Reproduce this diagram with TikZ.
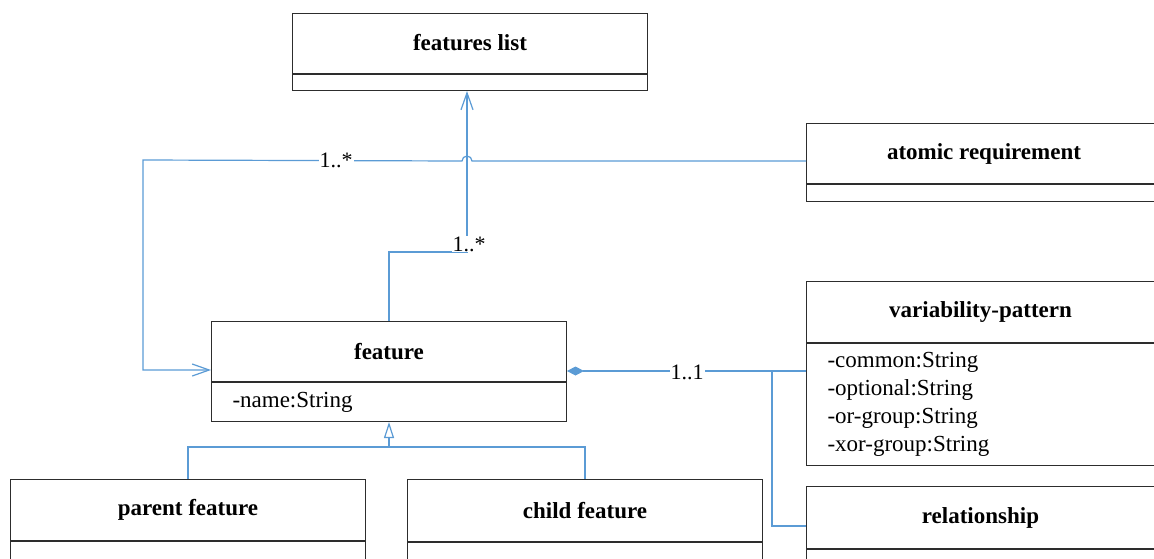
\documentclass[tikz,border=0pt]{standalone}
\usepackage{fontspec}
\setmainfont{Liberation Serif}
\usetikzlibrary{arrows.meta,calc}
\definecolor{link}{RGB}{91,155,213}
\definecolor{boxline}{RGB}{45,45,45}
\begin{document}
\begin{tikzpicture}[x=1pt,y=-1pt,
  head/.style={draw=boxline, line width=1pt, minimum width=#1, minimum height=60pt,
    inner sep=0pt, anchor=north west, font=\fontsize{23}{26}\selectfont\bfseries},
  head/.default=355pt,
  comp/.style={draw=boxline, line width=1pt, minimum width=#1, inner sep=0pt,
    anchor=north, font=\fontsize{23}{28}\selectfont},
  comp/.default=355pt,
  conn/.style={draw=link, line width=1.2pt},
  mult/.style={fill=white, inner sep=1pt, font=\fontsize{22}{24}\selectfont},
  openarrow/.style={-{Straight Barb[length=17pt,width=12pt,line width=1.2pt]}}
]
\clip (0,0) rectangle (1154,558);

% classes
\node[head] (fl) at (292,13) {\raisebox{1.5pt}{features list}};
\node[comp, minimum height=16pt] (flc) at (fl.south) {};

\node[head=360pt] (ar) at (806,123) {\hspace*{-5pt}\raisebox{1.5pt}{atomic requirement}};
\node[comp=360pt, minimum height=17pt] (arc) at (ar.south) {};

\node[head] (ft) at (211,321) {feature};
\node[comp, minimum height=39pt, align=left, text width=313pt, inner xsep=21pt]
  (ftc) at (ft.south) {-name:String};

\node[head=360pt, minimum height=61pt] (vp) at (806,281) {\hspace*{-12pt}variability-pattern};
\node[comp=360pt, minimum height=122pt, align=left, text width=318pt, inner xsep=21pt]
  (vpc) at (vp.south)
  {-common:String\\-optional:String\\-or-group:String\\-xor-group:String};

\node[head=360pt, minimum height=62pt] (rel) at (806,486) {\hspace*{-12pt}relationship};
\node[comp=360pt, minimum height=30pt] (relc) at (rel.south) {};

\node[head, minimum height=61pt] (pf) at (10,479) {parent feature};
\node[comp, minimum height=30pt] (pfc) at (pf.south) {};

\node[head, minimum height=62pt] (cf) at (407,479) {child feature};
\node[comp, minimum height=30pt] (cfc) at (cf.south) {};

% attachment points
\coordinate (arIn) at ($(ar.south west)+(0,-23)$);
\coordinate (hopR) at ($(arIn -| 467,0)+(5,0)$);
\coordinate (ftIn) at ($(ft.south west)+(0,-12)$);
\coordinate (ftOut) at ($(ft.south east)+(0,-11)$);
\coordinate (vpIn) at (vp.south west |- ftOut);
\coordinate (relIn) at ($(rel.south west)+(0,-23)$);
\coordinate (flIn) at (467,89);
\coordinate (gj) at (ft.south |- 0,447);

% association: atomic requirement -> feature, hopping over the vertical line
\draw[conn, openarrow] (arIn) -- (hopR)
  arc[start angle=0, end angle=-180, radius=5] -- (143,160) |- (ftIn);
\node[mult] at (336,160) {1..*};

% association: feature -> features list
\draw[conn, openarrow] (ft.north) |- (flIn |- 0,252) -- (flc.south -| flIn);
\node[mult] at (469,244) {1..*};

% composition: feature <>-- variability-pattern / relationship
\draw[conn, {Diamond[length=17pt,width=9pt,fill=link]}-] (ftOut) -- (vpIn);
\draw[conn] (772,371) |- (relIn);
\node[mult] at (687,372) {1..1};

% generalization: parent / child feature -> feature
\draw[conn] (pf.north) |- (gj) -| (cf.north);
\draw[conn, -{Triangle[open, length=16pt, width=10pt, fill=white]}] (gj) -- (ftc.south);
\end{tikzpicture}
\end{document}
